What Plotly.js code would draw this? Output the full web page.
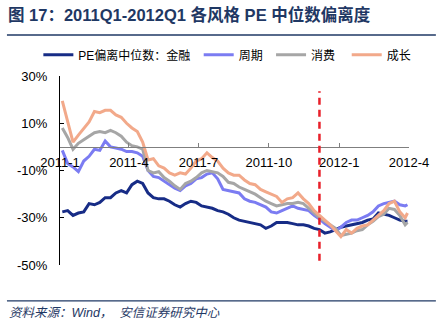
<!DOCTYPE html>
<html>
<head>
<meta charset="utf-8">
<script src="https://cdn.plot.ly/plotly-3.0.1.min.js"></script>
<style>
html,body{margin:0;padding:0;background:#fff;}
#chart{width:443px;height:324px;}
</style>
</head>
<body>
<div id="chart"></div>
<script>
// ---- data ----
const dates = [
 '2011-01-04','2011-01-11','2011-01-18','2011-01-25','2011-02-01','2011-02-08','2011-02-15','2011-02-22',
 '2011-03-01','2011-03-08','2011-03-15','2011-03-22','2011-03-29','2011-04-05','2011-04-12','2011-04-19',
 '2011-04-26','2011-05-03','2011-05-10','2011-05-17','2011-05-24','2011-05-31','2011-06-07','2011-06-14',
 '2011-06-21','2011-06-28','2011-07-05','2011-07-12','2011-07-19','2011-07-26','2011-08-02','2011-08-09',
 '2011-08-16','2011-08-23','2011-08-30','2011-09-06','2011-09-13','2011-09-20','2011-09-27','2011-10-04',
 '2011-10-11','2011-10-18','2011-10-25','2011-11-01','2011-11-08','2011-11-15','2011-11-22','2011-11-29',
 '2011-12-06','2011-12-13','2011-12-20','2011-12-27','2012-01-03','2012-01-10','2012-01-17','2012-01-24',
 '2012-01-31','2012-02-07','2012-02-14','2012-02-21','2012-02-28','2012-03-06','2012-03-13','2012-03-20',
 '2012-03-27','2012-03-30'
];
const finance = [ // PE偏离中位数：金融 (%)
 -27.5,-27,-29,-28,-27.5,-24,-24.5,-23.5,-21.5,-21.5,-19.5,-18.5,-19.5,-16,-14.5,-15.5,
 -19.5,-21.5,-22,-22,-23,-24.5,-25.5,-24,-23,-23.5,-25,-25.5,-26,-27,-27.5,-28.5,
 -30,-31,-31.5,-32,-32.5,-33,-34.5,-33.5,-32,-32,-32,-32.5,-33,-33,-33.5,-34.5,
 -35,-36.5,-36,-35,-34,-33.5,-33,-32.5,-32,-31,-30.5,-28,-28.5,-29,-30,-31,
 -31.5,-31.5
];
const cyclical = [ // 周期 (%)
 -1.5,-7,-8.5,-10.5,-6,-4,-1,-1.5,2.5,0,-0.5,-1,-2,-2,-2.5,-4,
 -10,-12.5,-13,-14.5,-16,-17.5,-18.5,-16.5,-15.5,-13.5,-13,-11.5,-11,-13.5,-18,-18.5,
 -19,-19.5,-22,-23,-23.5,-24.5,-25.5,-27.5,-28,-27,-26,-25,-26,-26.5,-27,-29,
 -30.5,-32.5,-34,-35.5,-34,-32,-31,-31,-30,-29,-27.5,-25,-24,-23.5,-23,-24.5,
 -25,-24.5
];
const consumer = [ // 消费 (%)
 8,4,-1,1.5,3,4.5,6,6.5,6,7,6,4.5,2,0.5,0,-1,
 -10,-11,-10.5,-13,-14.5,-16.5,-18,-15.5,-14.5,-13,-11,-10,-10.5,-11,-12.5,-15,
 -15.5,-17,-18,-19,-20,-21.5,-23,-24,-25,-24.5,-24,-24,-23.5,-24,-26,-28,
 -30,-31.5,-33,-34.5,-37.5,-37,-36.5,-35.5,-35,-33,-31.5,-29.5,-28.5,-26,-26.5,-29,
 -33,-32
];
const growth = [ // 成长 (%)
 19.5,11,2,5,8,10.6,15,14.5,15.5,15.5,13.5,12.5,10,8,6.5,2,
 -5.5,-5,-8,-9,-11,-12,-11,-11.5,-9,-6,-5,-2.5,-4.5,-6,-9,-11,
 -12,-12,-14,-15.5,-16,-18,-19,-20,-21,-23.5,-22,-21.5,-19.5,-22,-24,-27,
 -29,-31,-33,-35.5,-38,-35,-36.5,-34.5,-33.5,-33,-31,-29,-27,-24,-23,-27.5,
 -30,-28
];
const seriesNames = ['PE偏离中位数：金融\u00A0','周期\u00A0','消费\u00A0\u00A0','成长'];
const tickDates = ['2011-01-01','2011-04-01','2011-07-01','2011-10-01','2012-01-01','2012-04-01'];
const tickLabels = ['2011-1','2011-4','2011-7','2011-10','2012-1','2012-4'];
const yTicks = [-50,-30,-10,10,30];
const yTickLabels = ['-50%','-30%','-10%','10%','30%'];
const markerDate = '2011-12-06';
const markerSpan = [-48.2, 23.5];

// ---- styles ----
const colors = ['#172C86','#7B7CF2','#A6A6A6','#F2A98A'];
const seriesData = [finance, cyclical, consumer, growth];
const font = 'Liberation Sans, Arial, Noto Sans CJK SC, sans-serif';
const navy = '#1F3864';

const traces = seriesData.map((vals, i) => ({
  type: 'scatter', mode: 'lines', x: dates, y: vals, name: seriesNames[i],
  line: {color: colors[i], width: 3}
}));

const layout = {
  width: 443, height: 324,
  margin: {l: 60, r: 34, t: 76, b: 59},
  paper_bgcolor: '#fff', plot_bgcolor: 'rgba(0,0,0,0)',
  showlegend: true,
  legend: {orientation: 'h', x: -0.062, xanchor: 'left', y: 1.112, yanchor: 'middle',
           font: {family: font, size: 12, color: '#000'}, bgcolor: 'rgba(0,0,0,0)',
           itemwidth: 30, tracegroupgap: 0},
  xaxis: {
    type: 'date', range: ['2011-01-01','2012-04-01'],
    anchor: 'free', position: 0.625,
    showline: true, linecolor: '#7F7F7F', linewidth: 1.5,
    showgrid: false, zeroline: false,
    tickvals: tickDates, ticktext: tickLabels,
    ticks: 'inside', ticklen: 4, tickcolor: '#7F7F7F', tickwidth: 1,
    tickfont: {family: font, size: 13, color: '#000'},
    ticklabelstandoff: 3
  },
  yaxis: {
    range: [-50, 30], tickvals: yTicks, ticktext: yTickLabels,
    showline: true, linecolor: '#000', linewidth: 1,
    showgrid: false, zeroline: false,
    ticks: 'inside', ticklen: 4, tickcolor: '#000',
    tickfont: {family: font, size: 13, color: '#000'},
    ticklabelstandoff: 9
  },
  shapes: [
    {type: 'line', xref: 'x', yref: 'y', x0: markerDate, x1: markerDate, y0: markerSpan[0], y1: markerSpan[1],
     line: {color: '#E8202A', width: 2.5, dash: '7px,5px'}},
    {type: 'line', xref: 'paper', yref: 'paper', x0: -0.152, x1: 1.077, y0: 1.217, y1: 1.217,
     line: {color: navy, width: 1.3}},
    {type: 'line', xref: 'paper', yref: 'paper', x0: -0.152, x1: 1.077, y0: -0.19, y1: -0.19,
     line: {color: navy, width: 1.3}}
  ],
  annotations: [
    {xref: 'paper', yref: 'paper', x: -0.155, y: 1.325, xanchor: 'left', yanchor: 'middle', showarrow: false,
     text: '<b>图 17：2011Q1-2012Q1 各风格 PE 中位数偏离度</b>',
     font: {family: font, size: 16.5, color: navy}},
    {xref: 'paper', yref: 'paper', x: -0.152, y: -0.252, xanchor: 'left', yanchor: 'middle', showarrow: false,
     text: '<i>资料来源：Wind，  安信证券研究中心</i>',
     font: {family: font, size: 12.5, color: navy}}
  ]
};

Plotly.newPlot('chart', traces, layout, {staticPlot: true, displayModeBar: false});
</script>
</body>
</html>
